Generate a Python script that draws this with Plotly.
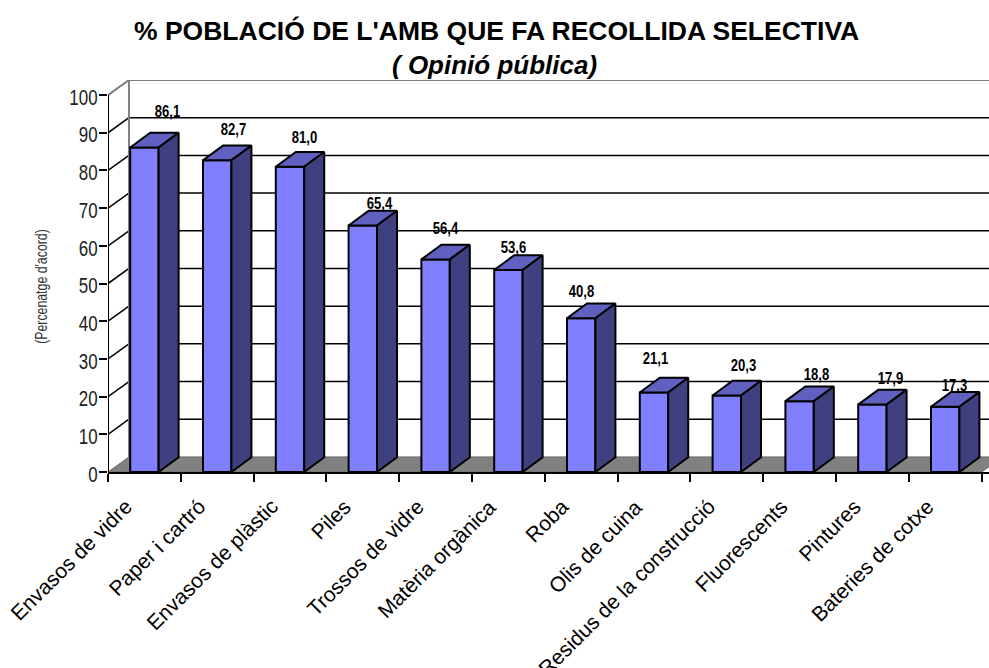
import plotly.graph_objects as go

title_main = "% POBLACIÓ DE L'AMB QUE FA RECOLLIDA SELECTIVA"
title_sub = "( Opinió pública)"
y_title = "(Percenatge d'acord)"

categories = ["Envasos de vidre", "Paper i cartró", "Envasos de plàstic", "Piles",
              "Trossos de vidre", "Matèria orgànica", "Roba", "Olis de cuina",
              "Residus de la construcció", "Fluorescents", "Pintures", "Bateries de cotxe"]
values = [86.1, 82.7, 81.0, 65.4, 56.4, 53.6, 40.8, 21.1, 20.3, 18.8, 17.9, 17.3]
y_ticks = [0, 10, 20, 30, 40, 50, 60, 70, 80, 90, 100]

# nudges for the value labels, in px, the source chart places them unevenly
label_dx = [23, 16, 14, 17, 10, 5, 0, 1, 17, 17, 18, 9]
label_dy = [21, 16, 14, 7, 16, 8, 12, 19, 15, 12, 11, 7]

# fake 3d depth, in axis units
WALL_DX, WALL_DY = 0.288, 4.0
BAR_DX, BAR_DY = 0.275, 3.9
BAR_W = 0.39
X_MAX = 881 / 72.8
# no narrow font here, so text with this family gets squeezed in the post script
NARROW = "Liberation Sans Narrow, Liberation Sans, sans-serif"
ARIAL = "Liberation Sans, Arial, sans-serif"

SQUEEZE_JS = """
document.body.style.margin = '0';
document.querySelectorAll('svg text').forEach(function (t) {
    if (t.style.fontFamily.indexOf('Narrow') < 0) return;
    var w = t.getComputedTextLength();
    t.setAttribute('textLength', w * 0.77);
    t.setAttribute('lengthAdjust', 'spacingAndGlyphs');
});
"""

n = len(categories)
centers = [i + 0.5 for i in range(n)]
fig = go.Figure()


def line_shape(x0, y0, x1, y1, color="#000000", width=1.5):
    fig.add_shape(type="line", x0=x0, y0=y0, x1=x1, y1=y1, xref="x", yref="y",
                  layer="below", line=dict(color=color, width=width))


# floor
fig.add_shape(type="path", xref="x", yref="y", layer="below",
              path=f"M 0 0 L {n} 0 L {n + WALL_DX} {WALL_DY} L {WALL_DX} {WALL_DY} Z",
              fillcolor="#808080", line=dict(color="#6a6a6a", width=1))

# walls and grid
for t in y_ticks[1:-1]:
    line_shape(0, t, WALL_DX, t + WALL_DY)
    line_shape(WALL_DX, t + WALL_DY, X_MAX + 1, t + WALL_DY)
line_shape(WALL_DX, WALL_DY, WALL_DX, 100 + WALL_DY, "#808080", 2)
line_shape(WALL_DX, 100 + WALL_DY, X_MAX + 1, 100 + WALL_DY, "#808080", 2)
line_shape(0, 100, WALL_DX, 100 + WALL_DY, "#808080", 2)
line_shape(0, 0, 0, 100, "#000000", 2)

fig.add_trace(go.Bar(x=centers, y=values, width=BAR_W, cliponaxis=False,
                     marker=dict(color="#8080FF", line=dict(color="#000000", width=2)),
                     hoverinfo="skip"))

for c, v in zip(centers, values):
    left, right = c - BAR_W / 2, c + BAR_W / 2
    # top face
    fig.add_trace(go.Scatter(x=[left, right, right + BAR_DX, left + BAR_DX, left],
                             y=[v, v, v + BAR_DY, v + BAR_DY, v],
                             mode="lines", fill="toself", fillcolor="#6060C0", cliponaxis=False,
                             line=dict(color="#000000", width=2), hoverinfo="skip"))
    # side face
    fig.add_trace(go.Scatter(x=[right, right + BAR_DX, right + BAR_DX, right, right],
                             y=[0, BAR_DY, v + BAR_DY, v, 0],
                             mode="lines", fill="toself", fillcolor="#404080", cliponaxis=False,
                             line=dict(color="#000000", width=2), hoverinfo="skip"))

for c, v, dx, dy in zip(centers, values, label_dx, label_dy):
    fig.add_annotation(x=c, y=v + BAR_DY, xref="x", yref="y", text=f"<b>{v:.1f}</b>".replace(".", ","),
                       showarrow=False, xanchor="center", yanchor="middle", xshift=dx, yshift=dy,
                       font=dict(family=NARROW, size=17, color="#000000"))

for c, name in zip(centers, categories):
    fig.add_annotation(x=c, y=0, xref="x", yref="y", text=name, showarrow=False, textangle=-45,
                       xanchor="right", yanchor="top", xshift=-5, yshift=-20,
                       font=dict(family=ARIAL, size=21, color="#000000"))

fig.add_annotation(x=0.5, xref="paper", y=1, yref="paper", yshift=49, xshift=-52,
                   text=f"<b>{title_main}</b>", showarrow=False,
                   xanchor="center", yanchor="middle",
                   font=dict(family=ARIAL, size=26.5, color="#000000"))
fig.add_annotation(x=0.5, xref="paper", y=1, yref="paper", yshift=15, xshift=-54,
                   text=f"<b><i>{title_sub}</i></b>", showarrow=False,
                   xanchor="center", yanchor="middle",
                   font=dict(family=ARIAL, size=26, color="#000000"))
fig.add_annotation(x=0, xref="paper", y=0.5, yref="paper", xshift=-67, yshift=-11,
                   text=y_title, textangle=-90, showarrow=False,
                   xanchor="center", yanchor="middle",
                   font=dict(family=NARROW, size=16, color="#333333"))

fig.update_layout(width=989, height=668, showlegend=False, paper_bgcolor="#FFFFFF",
                  plot_bgcolor="#FFFFFF", margin=dict(l=108, r=0, t=80, b=196),
                  xaxis=dict(range=[0, X_MAX], tickvals=list(range(n + 1)), ticks="outside",
                             ticklen=8, tickwidth=2, tickcolor="#000000", showticklabels=False,
                             showgrid=False, zeroline=False, showline=True,
                             linecolor="#000000", linewidth=2),
                  yaxis=dict(range=[0, 100 + WALL_DY], tickvals=y_ticks, ticks="outside",
                             ticklen=8, tickwidth=2, tickcolor="#000000", showgrid=False,
                             zeroline=False, showline=False, ticklabelstandoff=-3,
                             ticklabelshift=2,
                             tickfont=dict(family=NARROW, size=22, color="#222222")))

fig.write_html("out.html", config={"displayModeBar": False}, post_script=SQUEEZE_JS)
